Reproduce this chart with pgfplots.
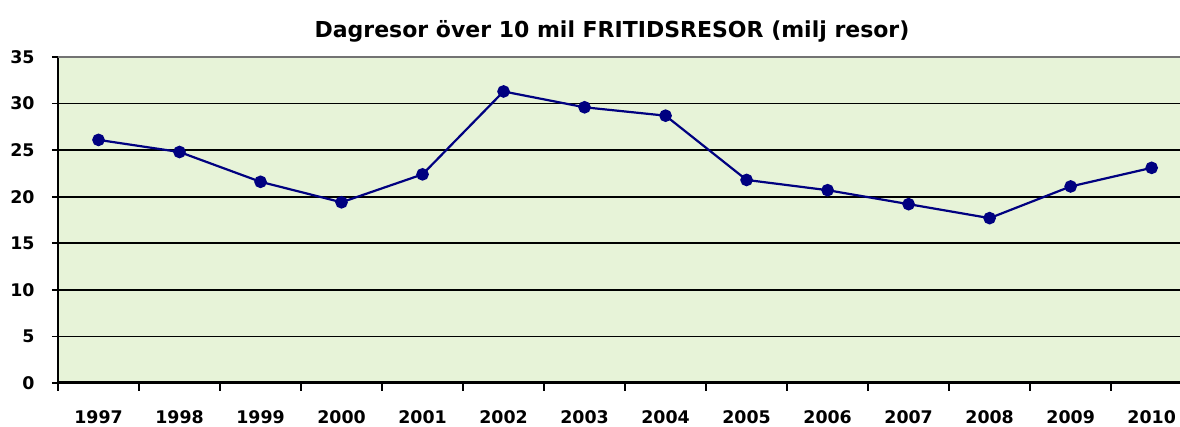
\documentclass[border=0pt]{standalone}
\usepackage{pgfplots}
\pgfplotsset{compat=1.18}
\usepackage{fontspec}
\setmainfont{DejaVu Sans}
\definecolor{bgg}{RGB}{231,243,216}
\definecolor{navyline}{RGB}{0,0,128}
\begin{document}
\begin{tikzpicture}
\useasboundingbox (-29pt,-22pt) rectangle (561pt,191.5pt);
\begin{axis}[
  at={(0,0)}, anchor=south west,
  scale only axis, width=561pt, height=163pt,
  xmin=-0.5, xmax=13.35, ymin=0, ymax=35,
  axis background/.style={fill=bgg},
  axis x line*=bottom, axis y line*=left,
  x axis line style={line width=1.5pt, -},
  y axis line style={line width=1pt, -},
  xtick={0,...,13},
  xticklabels={1997,1998,1999,2000,2001,2002,2003,2004,2005,2006,2007,2008,2009,2010},
  major x tick style={draw=none},
  minor xtick={-0.5,0.5,...,12.5},
  minor x tick style={black, line width=0.8pt},
  minor tick length=4pt,
  ytick={0,5,...,35},
  major y tick style={black, line width=0.8pt},
  major tick length=3pt,
  tick align=outside,
  ymajorgrids,
  major grid style={black, line width=0.8pt},
  /pgf/number format/assume math mode=true,
  ticklabel style={font=\bfseries\fontsize{8.7}{10}\selectfont},
  xticklabel style={anchor=base, yshift=-17.5pt},
  yticklabel style={anchor=east, inner sep=0pt, xshift=-8.5pt},
  clip=false,
]
\addplot[navyline, line width=1.1pt, mark=*, mark size=2.6pt, mark options={fill=navyline, draw=navyline}]
coordinates {
(0,26.1) (1,24.8) (2,21.6) (3,19.4) (4,22.4) (5,31.3) (6,29.6)
(7,28.7) (8,21.8) (9,20.7) (10,19.2) (11,17.7) (12,21.1) (13,23.1)
};
\draw[gray!90!black, line width=1pt] (rel axis cs:0,1) -- (rel axis cs:1,1);
\end{axis}
\node[font=\bfseries\fontsize{11}{13}\selectfont, anchor=base] at (277pt,172.5pt) {Dagresor över 10 mil FRITIDSRESOR (milj resor)};
\end{tikzpicture}
\end{document}
